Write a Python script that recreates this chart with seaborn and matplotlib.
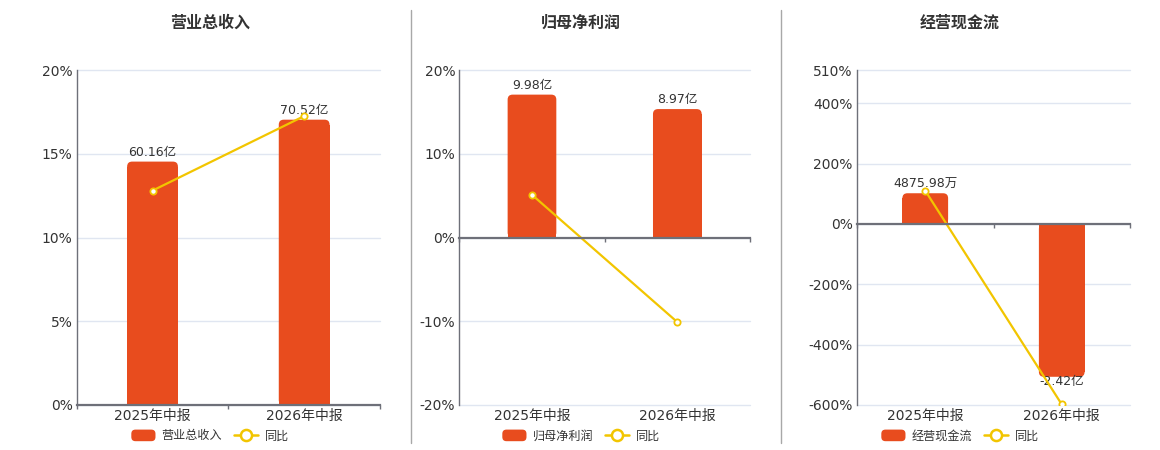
import numpy as np
import pandas as pd
import matplotlib
matplotlib.use("Agg")
import matplotlib.pyplot as plt
import seaborn as sns
from matplotlib.patches import FancyBboxPatch, Rectangle
from matplotlib.lines import Line2D
from matplotlib.legend_handler import HandlerPatch

# ---------------- data ----------------
periods = ["2025年中报", "2026年中报"]
titles = ["营业总收入", "归母净利润", "经营现金流"]
bar_names = ["营业总收入", "归母净利润", "经营现金流"]
bar_values = [[60.16, 70.52], [9.98, 8.97], [0.487598, -2.42]]  # 亿
bar_texts = [["60.16亿", "70.52亿"], ["9.98亿", "8.97亿"], ["4875.98万", "-2.42亿"]]
yoy_values = [[12.8, 17.25], [5.1, -10.1], [110.0, -598.0]]  # %
pct_ticks = [[0, 5, 10, 15, 20], [-20, -10, 0, 10, 20], [-600, -400, -200, 0, 200, 400, 510]]
pct_limits = [(0, 20), (-20, 20), (-600, 510)]
bar_limits = [(0, 82.8), (-11.7, 11.7), (-2.867, 2.44)]

# ---------------- style ----------------
BAR = "#E84C1E"
LINE = "#F2C500"
GRID = "#E0E6F1"
AXIS = "#6E7079"
TEXT = "#333333"
SEP = "#A8A8A8"

sns.set_theme(style="white")
plt.rcParams["font.family"] = ["DejaVu Sans", "Noto Sans CJK SC"]
plt.rcParams["axes.unicode_minus"] = False

W, H = 1160, 450
fig = plt.figure(figsize=(W / 100, H / 100), dpi=100)
fig.patch.set_facecolor("white")

rects_px = [(76.7, 380.0), (459.3, 750.0), (857.0, 1130.0)]
top_px, bot_px = 70.0, 405.0
title_x = [210, 581, 960]


def round_handle(legend, orig_handle, xdescent, ydescent, width, height, fontsize):
    return FancyBboxPatch((-xdescent, -ydescent), width, height,
                          boxstyle="round,pad=0,rounding_size=3")


for i in range(3):
    l, r = rects_px[i]
    rect = [l / W, 1 - bot_px / H, (r - l) / W, (bot_px - top_px) / H]

    # ---- bar axis (hidden scale) ----
    axb = fig.add_axes(rect, label=f"bar{i}")
    df = pd.DataFrame({"period": periods, "value": bar_values[i]})
    sns.barplot(data=df, x="period", y="value", ax=axb, color=BAR,
                width=0.335, saturation=1, edgecolor="none", linewidth=0)
    axb.set_xlim(-0.5, 1.5)
    axb.set_ylim(*bar_limits[i])
    lo_p, hi_p = pct_limits[i]
    lo_b, hi_b = bar_limits[i]
    grid_b = [lo_b + (p - lo_p) / (hi_p - lo_p) * (hi_b - lo_b) for p in pct_ticks[i]]
    axb.set_yticks(grid_b)
    axb.set_yticklabels([])
    axb.tick_params(axis="y", length=0)
    axb.grid(axis="y", color=GRID, lw=1)
    axb.grid(axis="x", visible=False)
    for gl in axb.get_ygridlines():
        gl.set_clip_on(False)
    axb.set_axisbelow(True)
    for s in axb.spines.values():
        s.set_visible(False)
    axb.set_xlabel("")
    axb.set_ylabel("")
    axb.tick_params(axis="x", length=0, pad=3, labelsize=10, labelcolor=TEXT)

    # labels
    cont = axb.containers[0]
    if i < 2:
        axb.bar_label(cont, labels=bar_texts[i], padding=2, fontsize=9, color=TEXT)
    else:
        axb.bar_label(cont, labels=[bar_texts[i][0], ""], padding=2, fontsize=9, color=TEXT)
        axb.bar_label(cont, labels=["", bar_texts[i][1]], padding=-1.5, fontsize=9, color=TEXT)

    # rounded far-end corners
    ax_w_px = r - l
    ax_h_px = bot_px - top_px
    xu = 2.0 / ax_w_px
    yu = (hi_b - lo_b) / ax_h_px
    rad_px = 5
    for p in list(cont.patches):
        x0, y0 = p.get_x(), p.get_y()
        w, h = p.get_width(), p.get_height()
        ybot, ytop = min(y0, y0 + h), max(y0, y0 + h)
        rr = min(rad_px * yu, (ytop - ybot) / 2)
        fb = FancyBboxPatch((x0, ybot), w, ytop - ybot,
                            boxstyle=f"round,pad=0,rounding_size={rad_px * xu}",
                            mutation_aspect=yu / xu, facecolor=BAR,
                            edgecolor="none", zorder=p.get_zorder())
        axb.add_patch(fb)
        if h >= 0:
            p.set_height(h - rr)
        else:
            p.set_height(h + rr)

    # ---- percent axis ----
    axp = fig.add_axes(rect, label=f"pct{i}")
    axp.patch.set_visible(False)
    ldf = pd.DataFrame({"period": periods, "yoy": yoy_values[i]})
    sns.lineplot(data=ldf, x="period", y="yoy", ax=axp, color=LINE, lw=1.6,
                 marker="o", markersize=4.5, markerfacecolor="white",
                 markeredgecolor=LINE, markeredgewidth=1.3, sort=False)
    axp.set_xlim(-0.5, 1.5)
    axp.set_ylim(*pct_limits[i])
    axp.set_yticks(pct_ticks[i])
    axp.set_yticklabels([f"{t}%" for t in pct_ticks[i]])
    axp.tick_params(axis="y", length=0, pad=3, labelsize=10, labelcolor=TEXT)
    axp.set_xticks([-0.5, 0.5, 1.5])
    axp.set_xticklabels([])
    axp.tick_params(axis="x", bottom=True, length=3, width=1, color=AXIS, direction="out")
    axp.grid(False)
    axp.set_xlabel("")
    axp.set_ylabel("")
    for k in ["top", "right"]:
        axp.spines[k].set_visible(False)
    axp.spines["left"].set_color(AXIS)
    axp.spines["left"].set_linewidth(1)
    axp.spines["bottom"].set_position(("data", 0))
    axp.spines["bottom"].set_color(AXIS)
    axp.spines["bottom"].set_linewidth(1.6)
    if axp.get_legend() is not None:
        axp.get_legend().remove()

    # title
    fig.text(title_x[i] / W, 1 - 23 / H, titles[i], ha="center", va="center",
             fontsize=11.5, fontweight="bold", color=TEXT,
             family=["Noto Sans CJK SC", "DejaVu Sans"])

    # legend
    h_bar = Rectangle((0, 0), 1, 1, facecolor=BAR, edgecolor="none")
    h_line = Line2D([], [], color=LINE, lw=1.8, marker="o", markersize=8,
                    markerfacecolor="white", markeredgecolor=LINE, markeredgewidth=1.8)
    fig.legend([h_bar, h_line], [bar_names[i], "同比"], loc="center",
               bbox_to_anchor=(title_x[i] / W, 1 - 436 / H), ncol=2, frameon=False,
               prop={"family": ["Noto Sans CJK SC", "DejaVu Sans"], "size": 8.7},
               labelcolor=TEXT, handlelength=2.0, handleheight=1.1,
               handletextpad=0.5, columnspacing=1.0, borderaxespad=0, borderpad=0,
               handler_map={Rectangle: HandlerPatch(patch_func=round_handle)})

# separators
for xs in [410.5, 780.5]:
    fig.add_artist(Line2D([xs / W, xs / W], [1 - 10 / H, 1 - 443 / H],
                          transform=fig.transFigure, color=SEP, lw=1))

fig.savefig("out.png", dpi=100, facecolor="white")
